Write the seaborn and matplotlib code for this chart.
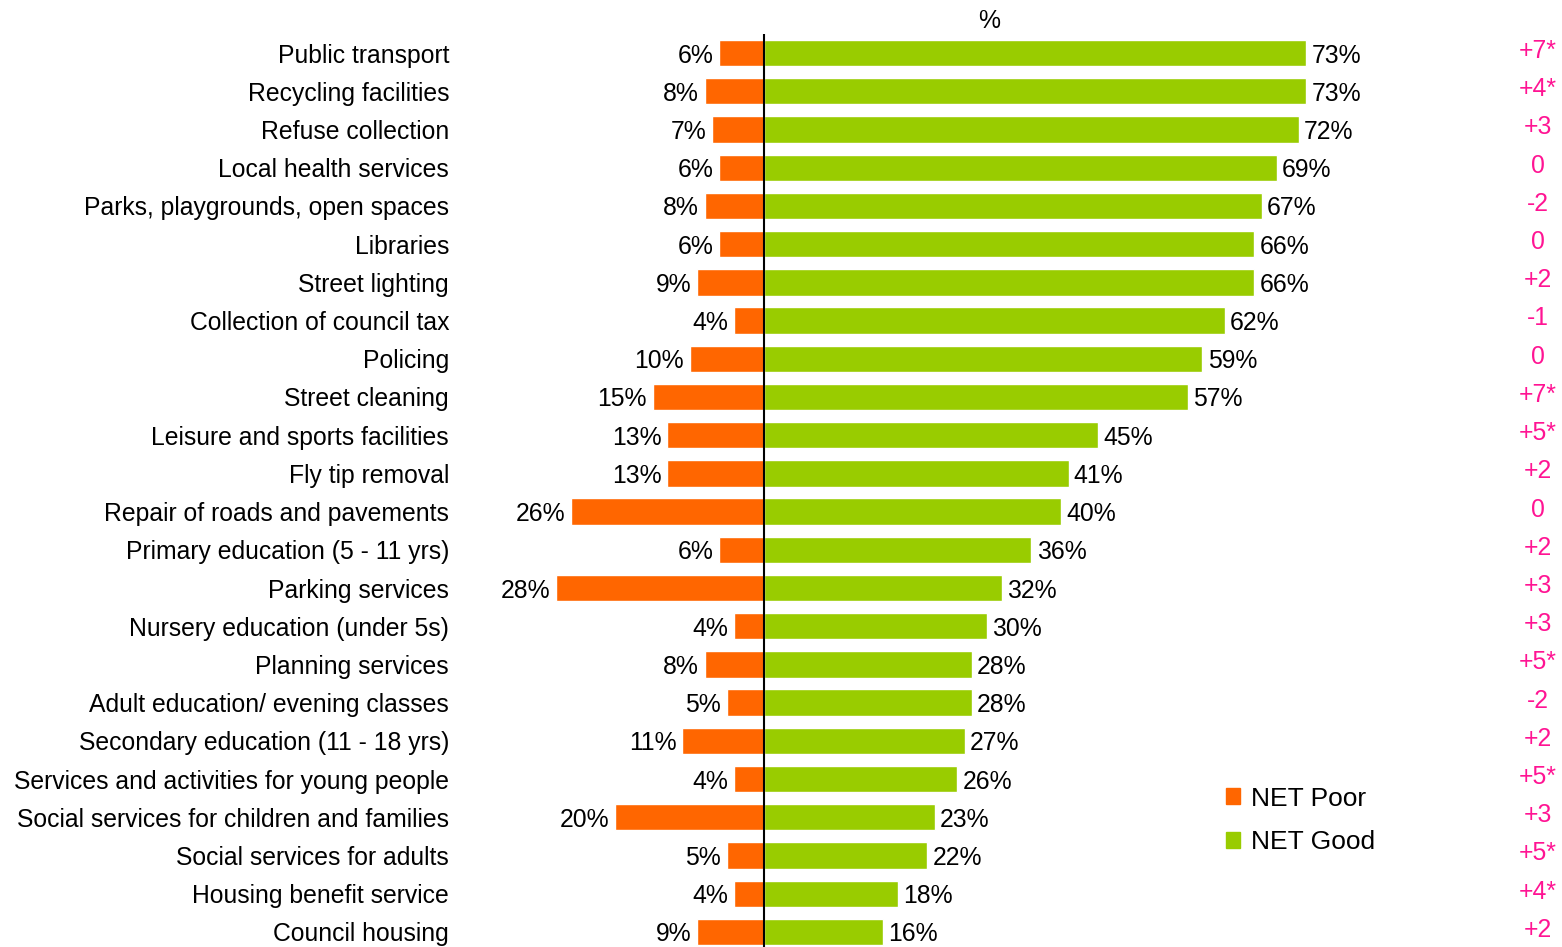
import matplotlib
matplotlib.use("Agg")
import matplotlib.pyplot as plt
import seaborn as sns
import pandas as pd
from matplotlib.patches import Patch

categories = [
    "Public transport", "Recycling facilities", "Refuse collection", "Local health services",
    "Parks, playgrounds, open spaces", "Libraries", "Street lighting", "Collection of council tax",
    "Policing", "Street cleaning", "Leisure and sports facilities", "Fly tip removal",
    "Repair of roads and pavements", "Primary education (5 - 11 yrs)", "Parking services",
    "Nursery education (under 5s)", "Planning services", "Adult education/ evening classes",
    "Secondary education (11 - 18 yrs)", "Services and activities for young people",
    "Social services for children and families", "Social services for adults",
    "Housing benefit service", "Council housing",
]
net_good = [73, 73, 72, 69, 67, 66, 66, 62, 59, 57, 45, 41, 40, 36, 32, 30, 28, 28, 27, 26, 23, 22, 18, 16]
net_poor = [6, 8, 7, 6, 8, 6, 9, 4, 10, 15, 13, 13, 26, 6, 28, 4, 8, 5, 11, 4, 20, 5, 4, 9]
change = ["+7*", "+4*", "+3", "0", "-2", "0", "+2", "-1", "0", "+7*", "+5*", "+2", "0", "+2",
          "+3", "+3", "+5*", "-2", "+2", "+5*", "+3", "+5*", "+4*", "+2"]

ORANGE = "#FF6600"
GREEN = "#99CC00"
PINK = "#FF1493"

sns.set_style("white")
plt.rcParams["font.family"] = ["Liberation Sans", "DejaVu Sans"]
plt.rcParams["text.color"] = "black"

W, H = 1562, 947
fig = plt.figure(figsize=(W / 100, H / 100), dpi=100)

px_per = 7.43
zero_px = 764
ax_left_px, ax_right_px = 480, 1562
top_px, bot_px = 34, 951
ax = fig.add_axes([ax_left_px / W, (H - bot_px) / H,
                   (ax_right_px - ax_left_px) / W, (bot_px - top_px) / H])

df = pd.DataFrame({"cat": categories, "good": net_good, "poor": [-v for v in net_poor]})

sns.barplot(data=df, y="cat", x="poor", order=categories, color=ORANGE, width=0.69,
            orient="h", ax=ax, saturation=1)
sns.barplot(data=df, y="cat", x="good", order=categories, color=GREEN, width=0.69,
            orient="h", ax=ax, saturation=1)

xmin = -(zero_px - ax_left_px) / px_per
xmax = (ax_right_px - zero_px) / px_per
ax.set_xlim(xmin, xmax)
ax.set_ylim(len(categories) - 0.5, -0.5)
ax.axvline(0, color="black", lw=1.5, zorder=5)
for s in ax.spines.values():
    s.set_visible(False)
ax.set_xticks([])
ax.set_yticks([])
ax.set_xlabel("")
ax.set_ylabel("")

fs = 17.8
label_x = -(zero_px - 449) / px_per
pink_x = (1538 - zero_px) / px_per
for i, (c, g, p, ch) in enumerate(zip(categories, net_good, net_poor, change)):
    ax.text(label_x, i, c, ha="right", va="center_baseline", fontsize=fs, clip_on=False)
    ax.text(g + 0.7, i, f"{g}%", ha="left", va="center_baseline", fontsize=fs)
    ax.text(-p - 0.8, i, f"{p}%", ha="right", va="center_baseline", fontsize=fs)
    ax.text(pink_x, i - 0.12, ch, ha="center", va="center_baseline", fontsize=fs, color=PINK)

fig.text(989 / W, 1 - 18 / H, "%", ha="center", va="center_baseline", fontsize=fs)

handles = [Patch(color=ORANGE, label="NET Poor"), Patch(color=GREEN, label="NET Good")]
fig.legend(handles=handles, loc="upper left", bbox_to_anchor=(1215 / W, 1 - 776 / H),
           frameon=False, fontsize=19, handlelength=0.55, handleheight=0.55,
           handletextpad=0.4, labelspacing=0.75, borderaxespad=0)

fig.savefig("out.png", dpi=100)
